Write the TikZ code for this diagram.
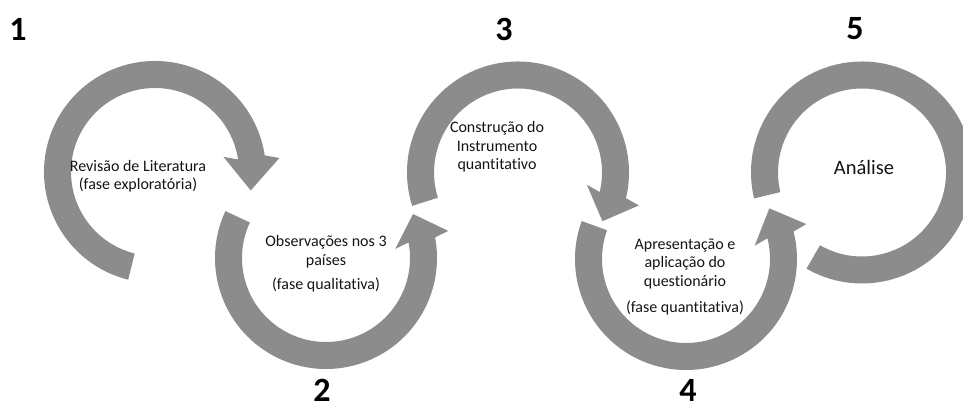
\documentclass[tikz,border=0pt]{standalone}
\usepackage{fontspec}
\setmainfont{Carlito}[Ligatures=NoCommon]
\usetikzlibrary{calc}

\definecolor{ringgray}{RGB}{140,140,140}
\definecolor{inktext}{RGB}{20,20,20}

% ring geometry (outer / inner / middle radius, half width of an arrow head)
\def\rout{111}
\def\rin{84}
\def\rmid{97.5}
\def\hw{28pt}

% #1 centre, #2 tail angle, #3 angle of the head base, #4 angle of the tip,
% #5 / #6 turn from the head axis to the outer / inner wing
\newcommand\ringarrow[6]{%
  \coordinate (hb) at ($(#1)+(#3:\rmid)$);
  \coordinate (ht) at ($(#1)+(#4:\rmid)$);
  \fill[ring] ($(#1)+(#2:\rout)$) arc[start angle=#2, end angle=#3, radius=\rout]
    -- ($(hb)!\hw!#5:(ht)$) -- (ht) -- ($(hb)!\hw!#6:(ht)$)
    -- ($(#1)+(#3:\rin)$) arc[start angle=#3, end angle=#2, radius=\rin] -- cycle;
}

\tikzset{
  ring/.style={fill=ringgray, draw=none},
  caption/.style={font=\fontsize{16}{18.5}\selectfont, align=center, text=inktext, inner sep=0pt},
  bigcaption/.style={font=\fontsize{20.5}{24}\selectfont, text=inktext, inner sep=0pt},
  stepnum/.style={font=\bfseries\fontsize{34}{34}\selectfont, text=black, inner sep=0pt},
}

\begin{document}
\begin{tikzpicture}[x=1pt, y=1pt]
  \useasboundingbox (0,0) rectangle (963,414);
  \clip (0,0) rectangle (963,414);

  % centres of the five rings
  \coordinate (c1) at (155,242);
  \coordinate (c2) at (326,156);
  \coordinate (c3) at (518,241.5);
  \coordinate (c4) at (686,155);
  \coordinate (c5) at (862,241.5);

  % circular arrows
  \ringarrow{c1}{256}{8.6}{-10.9}{90}{-90}
  \ringarrow{c2}{155}{370.7}{386.8}{-90}{90}
  \ringarrow{c3}{197.5}{-13.4}{-30}{90}{-90}
  \ringarrow{c4}{160}{374.3}{391.3}{-90}{90}
  % final ring, open towards the lower left
  \fill[ring] ($(c5)+(193.5:\rout)$) arc[start angle=193.5, end angle=-120, radius=\rout]
    -- ($(c5)+(-120:\rin)$) arc[start angle=-120, end angle=193.5, radius=\rin] -- cycle;

  % phase texts
  \node[caption] (t1) at (138,238) {Revisão de Literatura\\(fase exploratória)};
  \node[caption] (t2) at (326,150) {Observações nos 3\\países\\[6pt](fase qualitativa)};
  \node[caption] (t3) at (497,267) {Construção do\\Instrumento\\quantitativo};
  \node[caption] (t4) at (685,137) {Apresentação e\\aplicação do\\questionário\\[8pt](fase quantitativa)};
  \node[bigcaption] (t5) at (864,247) {Análise};

  % step numbers
  \node[stepnum] (n1) at (18,385) {1};
  \node[stepnum] (n2) at (322,24) {2};
  \node[stepnum] (n3) at (504,385) {3};
  \node[stepnum] (n4) at (688,24) {4};
  \node[stepnum] (n5) at (855,385) {5};
\end{tikzpicture}
\end{document}
